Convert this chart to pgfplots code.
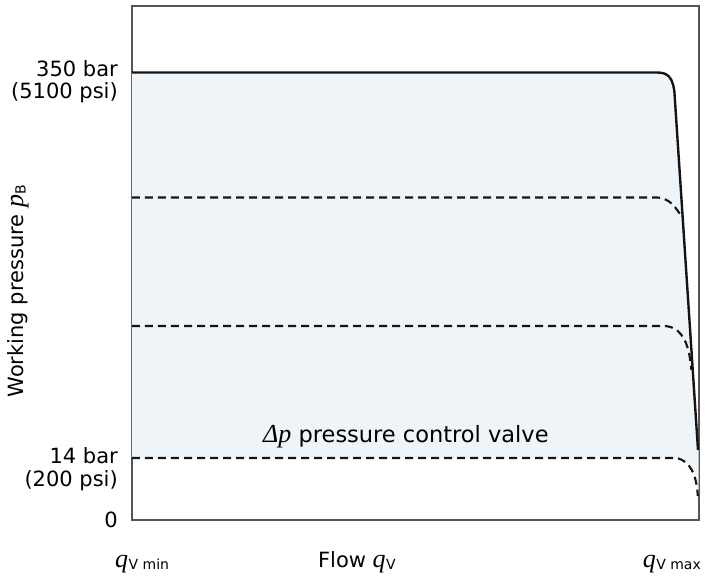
\documentclass[border=0pt]{standalone}
\usepackage{fontspec}
\setmainfont{DejaVu Sans}
\newfontfamily\serifit{Liberation Serif}[UprightFont=*-Italic]
\usepackage{pgfplots}
\pgfplotsset{compat=1.18}
\definecolor{fillc}{RGB}{238,244,248}
\definecolor{framec}{RGB}{85,85,85}
\definecolor{curvec}{RGB}{20,20,20}
\newcommand\lab{\fontsize{21}{25}\selectfont}
\newcommand\sym[1]{{\fontsize{26}{30}\serifit #1}}
\newcommand\qV[1]{\sym{q}\kern0.5pt\raisebox{-2.5pt}{\fontsize{14}{16}\selectfont #1}}
\begin{document}
\begin{tikzpicture}
\begin{axis}[
  scale only axis, width=567pt, height=514pt,
  xmin=0, xmax=567, ymin=0, ymax=514,
  axis line style={framec, line width=1.1pt},
  xtick=\empty, ytick=\empty,
  clip=false,
]
% filled region between the 14 bar curve and the 350 bar curve
\addplot[draw=none, fill=fillc] coordinates {
  (0,447.5) (525,447.5) (531,446.8) (535,445) (538,442) (540.3,437.5) (541.8,432) (542.5,427) (542.6,425) (566.5,70)
  (566.5,24) (565.8,24) (565.4,30) (564.6,37) (563.2,43) (561,48.5) (558,53) (554.5,56.5) (550,59.3) (546,61) (543,62) (0,62)
} -- cycle;
% 350 bar (solid)
\addplot[curvec, line width=2.4pt, line join=round] coordinates {
  (0,447.5) (525,447.5) (528,447.3) (531,446.8) (533.3,446.1) (535,445) (536.7,443.7) (538,442) (539.4,439.9) (540.3,437.5) (541.2,434.8) (541.8,432) (542.3,429.3) (542.6,425) (566,70)
};
% dashed curves
\addplot[curvec, line width=2.1pt, dash pattern=on 8pt off 5pt, line join=round] coordinates {
  (0,322.5) (525,322.5) (528,322.2) (531,321.4) (534,320.2) (537,318.5) (540,316.1) (542.5,313.4) (544.8,310.5) (547,307.3) (549.5,303.5)
};
\addplot[curvec, line width=2.1pt, dash pattern=on 8pt off 5pt, line join=round] coordinates {
  (0,194) (532,194) (535.5,193.7) (539,192.8) (542.5,191.2) (546,188.8) (549,185.6) (551.8,181.6) (554,177) (555.8,171.6) (557.3,165.5) (558.4,158.5) (559.4,150)
};
\addplot[curvec, line width=2.1pt, dash pattern=on 8pt off 5pt, line join=round] coordinates {
  (0,62) (543,62) (546,61.6) (549,60.5) (552,58.8) (554.8,56.5) (557.4,53.6) (559.6,50.3) (561.4,46.6) (562.9,42.5) (564,38) (564.9,33.2) (565.5,28.2) (565.8,24)
};
% tick labels
\node[anchor=base east, font=\lab, inner sep=0] at (axis cs:-14,443) {350 bar};
\node[anchor=base east, font=\lab, inner sep=0] at (axis cs:-14,421) {(5100 psi)};
\node[anchor=base east, font=\lab, inner sep=0] at (axis cs:-14,56) {14 bar};
\node[anchor=base east, font=\lab, inner sep=0] at (axis cs:-14,33) {(200 psi)};
\node[anchor=base east, font=\lab, inner sep=0] at (axis cs:-14,-7) {0};
% annotation
\node[anchor=base west, inner sep=0, font=\fontsize{22.5}{26}\selectfont] at (axis cs:131,77) {\sym{Δp} pressure control valve};
% axis labels
\node[rotate=90, anchor=center, font=\lab, inner sep=0] at (axis cs:-114,229) {Working pressure \sym{p}\kern0.5pt\raisebox{-2.5pt}{\fontsize{14}{16}\selectfont B}};
\node[anchor=base west, inner sep=0, font=\lab] at (axis cs:-17,-47) {\qV{V min}};
\node[anchor=base east, inner sep=0, font=\lab] at (axis cs:264,-47) {Flow \qV{V}};
\node[anchor=base east, inner sep=0, font=\lab] at (axis cs:569,-47) {\qV{V max}};
\end{axis}
\pgfresetboundingbox
\path[use as bounding box] (-132pt,-57pt) rectangle (576pt,520pt);
\end{tikzpicture}
\end{document}
